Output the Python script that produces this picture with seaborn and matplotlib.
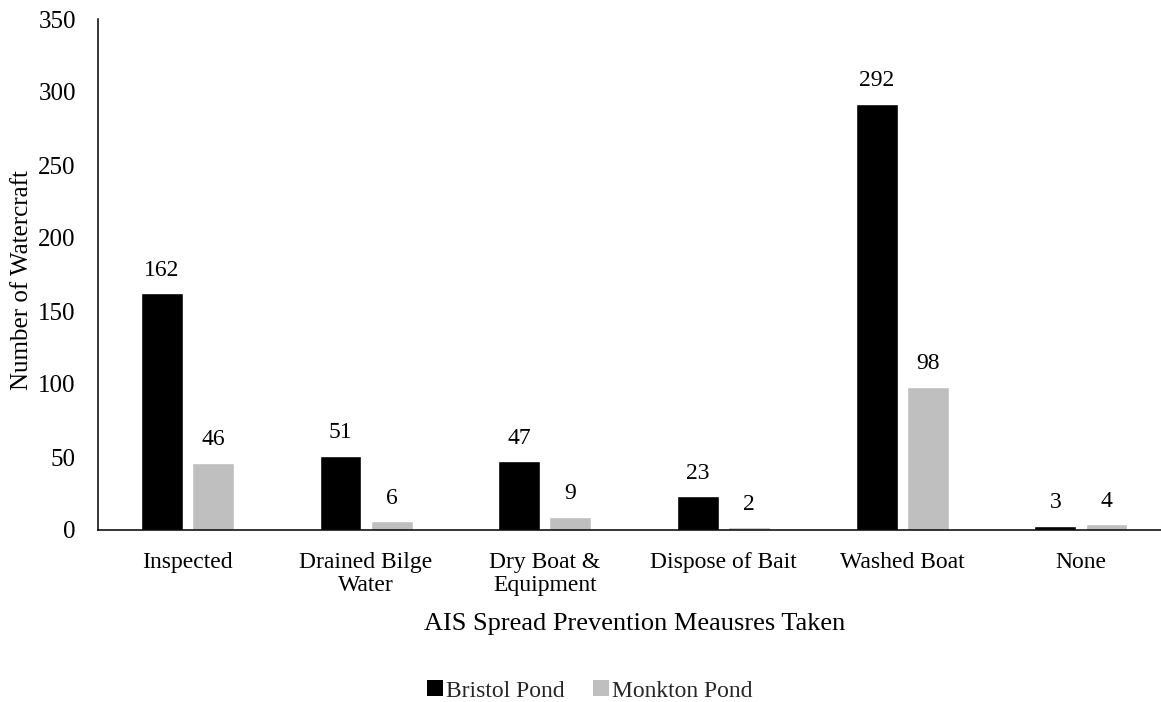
import matplotlib
matplotlib.use("Agg")
import matplotlib.pyplot as plt
from matplotlib.patches import Patch
import seaborn as sns
import pandas as pd

categories = ["Inspected", "Drained Bilge\nWater", "Dry Boat &\nEquipment",
              "Dispose of Bait", "Washed Boat", "None"]
bristol = [162, 51, 47, 23, 292, 3]
monkton = [46, 6, 9, 2, 98, 4]
series_names = ["Bristol Pond", "Monkton Pond"]
colors = ["#000000", "#bfbfbf"]
yticks = [0, 50, 100, 150, 200, 250, 300, 350]

df = pd.DataFrame({
    "measure": categories * 2,
    "count": bristol + monkton,
    "site": [series_names[0]] * len(categories) + [series_names[1]] * len(categories),
})

sns.set_theme(style="white")
plt.rcParams["font.family"] = ["Liberation Serif", "DejaVu Serif"]

W, H = 1161, 702
fig = plt.figure(figsize=(W / 100, H / 100), dpi=100)
ax = fig.add_axes([98 / W, (H - 530) / H, 1 - 98 / W, (530 - 19) / H])

sns.barplot(data=df, x="measure", y="count", hue="site", palette=colors,
            order=categories, hue_order=series_names,
            width=0.572, gap=0.18, saturation=1, ax=ax, legend=False,
            errorbar=None)

for container in ax.containers:
    ax.bar_label(container, labels=[f"{int(v)}" for v in container.datavalues],
                 padding=9, fontsize=17, color="#000000")

ax.set_ylim(0, 350)
ax.set_yticks(yticks)
ax.set_xlim(-0.5, (W - 188) / 178.6)

ax.tick_params(axis="both", length=0, labelsize=17, colors="#000000")
ax.tick_params(axis="y", labelsize=18, pad=16)
ax.tick_params(axis="x", pad=16)
for lab in ax.get_xticklabels():
    lab.set_linespacing(1.1)

for s in ["top", "right"]:
    ax.spines[s].set_visible(False)
for s in ["left", "bottom"]:
    ax.spines[s].set_color("#000000")
    ax.spines[s].set_linewidth(1.1)

ax.set_xlabel("AIS Spread Prevention Meausres Taken", fontsize=19, color="#000000")
ax.xaxis.set_label_coords((635 - 98) / (W - 98), -(613 - 530) / 511)
ax.set_ylabel("Number of Watercraft", fontsize=18, color="#000000")
ax.yaxis.set_label_coords((33 - 98) / (W - 98), 0.49)

handles = [Patch(facecolor=c, edgecolor="none") for c in colors]
fig.legend(handles, series_names, loc="center", ncol=2,
           bbox_to_anchor=(590 / W, 1 - 691 / H), frameon=False,
           fontsize=17, handlelength=0.65, handleheight=0.65,
           handletextpad=0.15, columnspacing=1.2, borderaxespad=0)

fig.savefig("out.png", dpi=100)
